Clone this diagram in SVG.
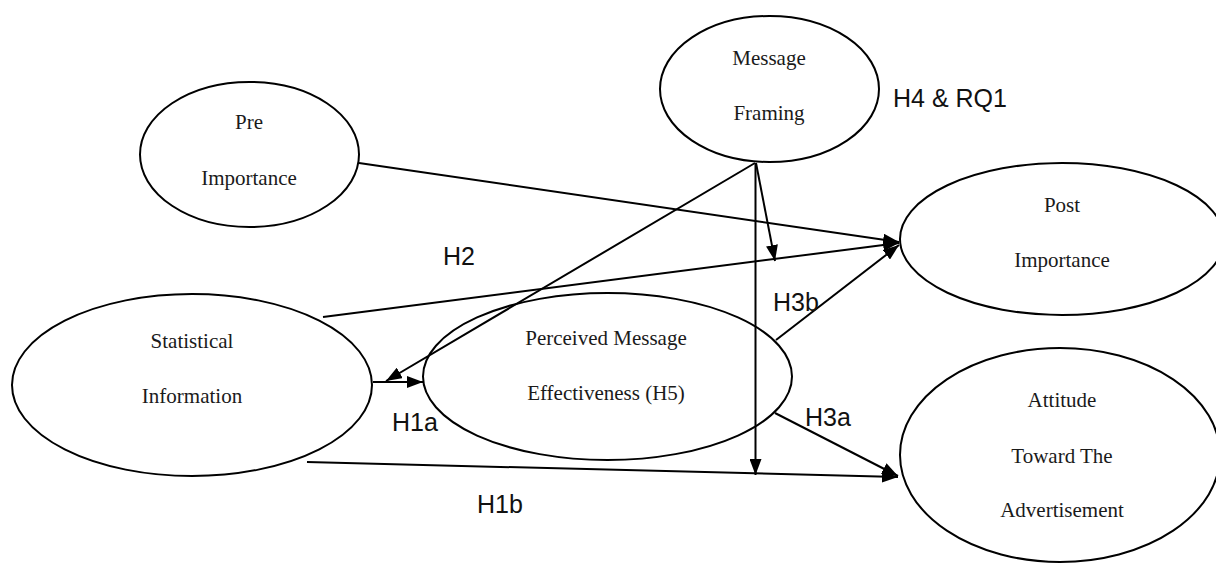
<svg xmlns="http://www.w3.org/2000/svg" width="1216" height="563" viewBox="0 0 1216 563">
<style>
.node ellipse{fill:#fff;stroke:#000;stroke-width:2}
.node text{font-family:"Liberation Serif","Times New Roman",serif;font-size:21px;fill:#1a1a1a;text-anchor:middle}
.conn line{stroke:#000;stroke-width:2}
.lbl{font-family:"Liberation Sans",Arial,sans-serif;font-size:25px;fill:#111}
</style>
<defs>
<marker id="ah" markerUnits="userSpaceOnUse" markerWidth="17" markerHeight="12" refX="16" refY="6" orient="auto" viewBox="0 0 17 12">
<path d="M0,0 L16,6 L0,12 Z" fill="#000"/>
</marker>
</defs>
<rect width="1216" height="563" fill="#fff"/>
<g id="n-post" class="node">
<ellipse cx="1062" cy="239" rx="162" ry="76"/>
<text x="1062" y="212">Post</text>
<text x="1062" y="267">Importance</text>
</g>
<g id="n-attitude" class="node">
<ellipse cx="1060" cy="455" rx="160" ry="107"/>
<text x="1062" y="407">Attitude</text>
<text x="1062" y="463">Toward The</text>
<text x="1062" y="517">Advertisement</text>
</g>
<g id="n-pre" class="node">
<ellipse cx="249.5" cy="154.5" rx="109.5" ry="72.5"/>
<text x="249" y="129">Pre</text>
<text x="249" y="185">Importance</text>
</g>
<g id="n-framing" class="node">
<ellipse cx="769.5" cy="89" rx="109.5" ry="73"/>
<text x="769" y="65">Message</text>
<text x="769" y="120">Framing</text>
</g>
<g id="n-stat" class="node">
<ellipse cx="192" cy="385" rx="180" ry="91"/>
<text x="192" y="348">Statistical</text>
<text x="192" y="403">Information</text>
</g>
<g id="n-pme" class="node">
<ellipse cx="607.5" cy="376.5" rx="184.5" ry="83.5"/>
<text x="606" y="345">Perceived Message</text>
<text x="606" y="400">Effectiveness (H5)</text>
</g>
<g id="connectors" class="conn">
<line x1="359" y1="163" x2="899" y2="242" marker-end="url(#ah)"/>
<line x1="323" y1="317" x2="899" y2="243" marker-end="url(#ah)"/>
<line x1="755" y1="163" x2="386" y2="381" marker-end="url(#ah)"/>
<line x1="373" y1="382" x2="423" y2="382" marker-end="url(#ah)"/>
<line x1="755.5" y1="163" x2="755.5" y2="475" marker-end="url(#ah)"/>
<line x1="756" y1="163" x2="775" y2="261" marker-end="url(#ah)"/>
<line x1="776" y1="340" x2="899" y2="245" marker-end="url(#ah)"/>
<line x1="775" y1="413" x2="898" y2="476" marker-end="url(#ah)"/>
<line x1="307" y1="462" x2="898" y2="477" marker-end="url(#ah)"/>
</g>
<g id="labels">
<text class="lbl" x="893" y="107">H4 &amp; RQ1</text>
<text class="lbl" x="443" y="265">H2</text>
<text class="lbl" x="773" y="311">H3b</text>
<text class="lbl" x="392" y="431">H1a</text>
<text class="lbl" x="805" y="426">H3a</text>
<text class="lbl" x="477" y="513">H1b</text>
</g>
</svg>
